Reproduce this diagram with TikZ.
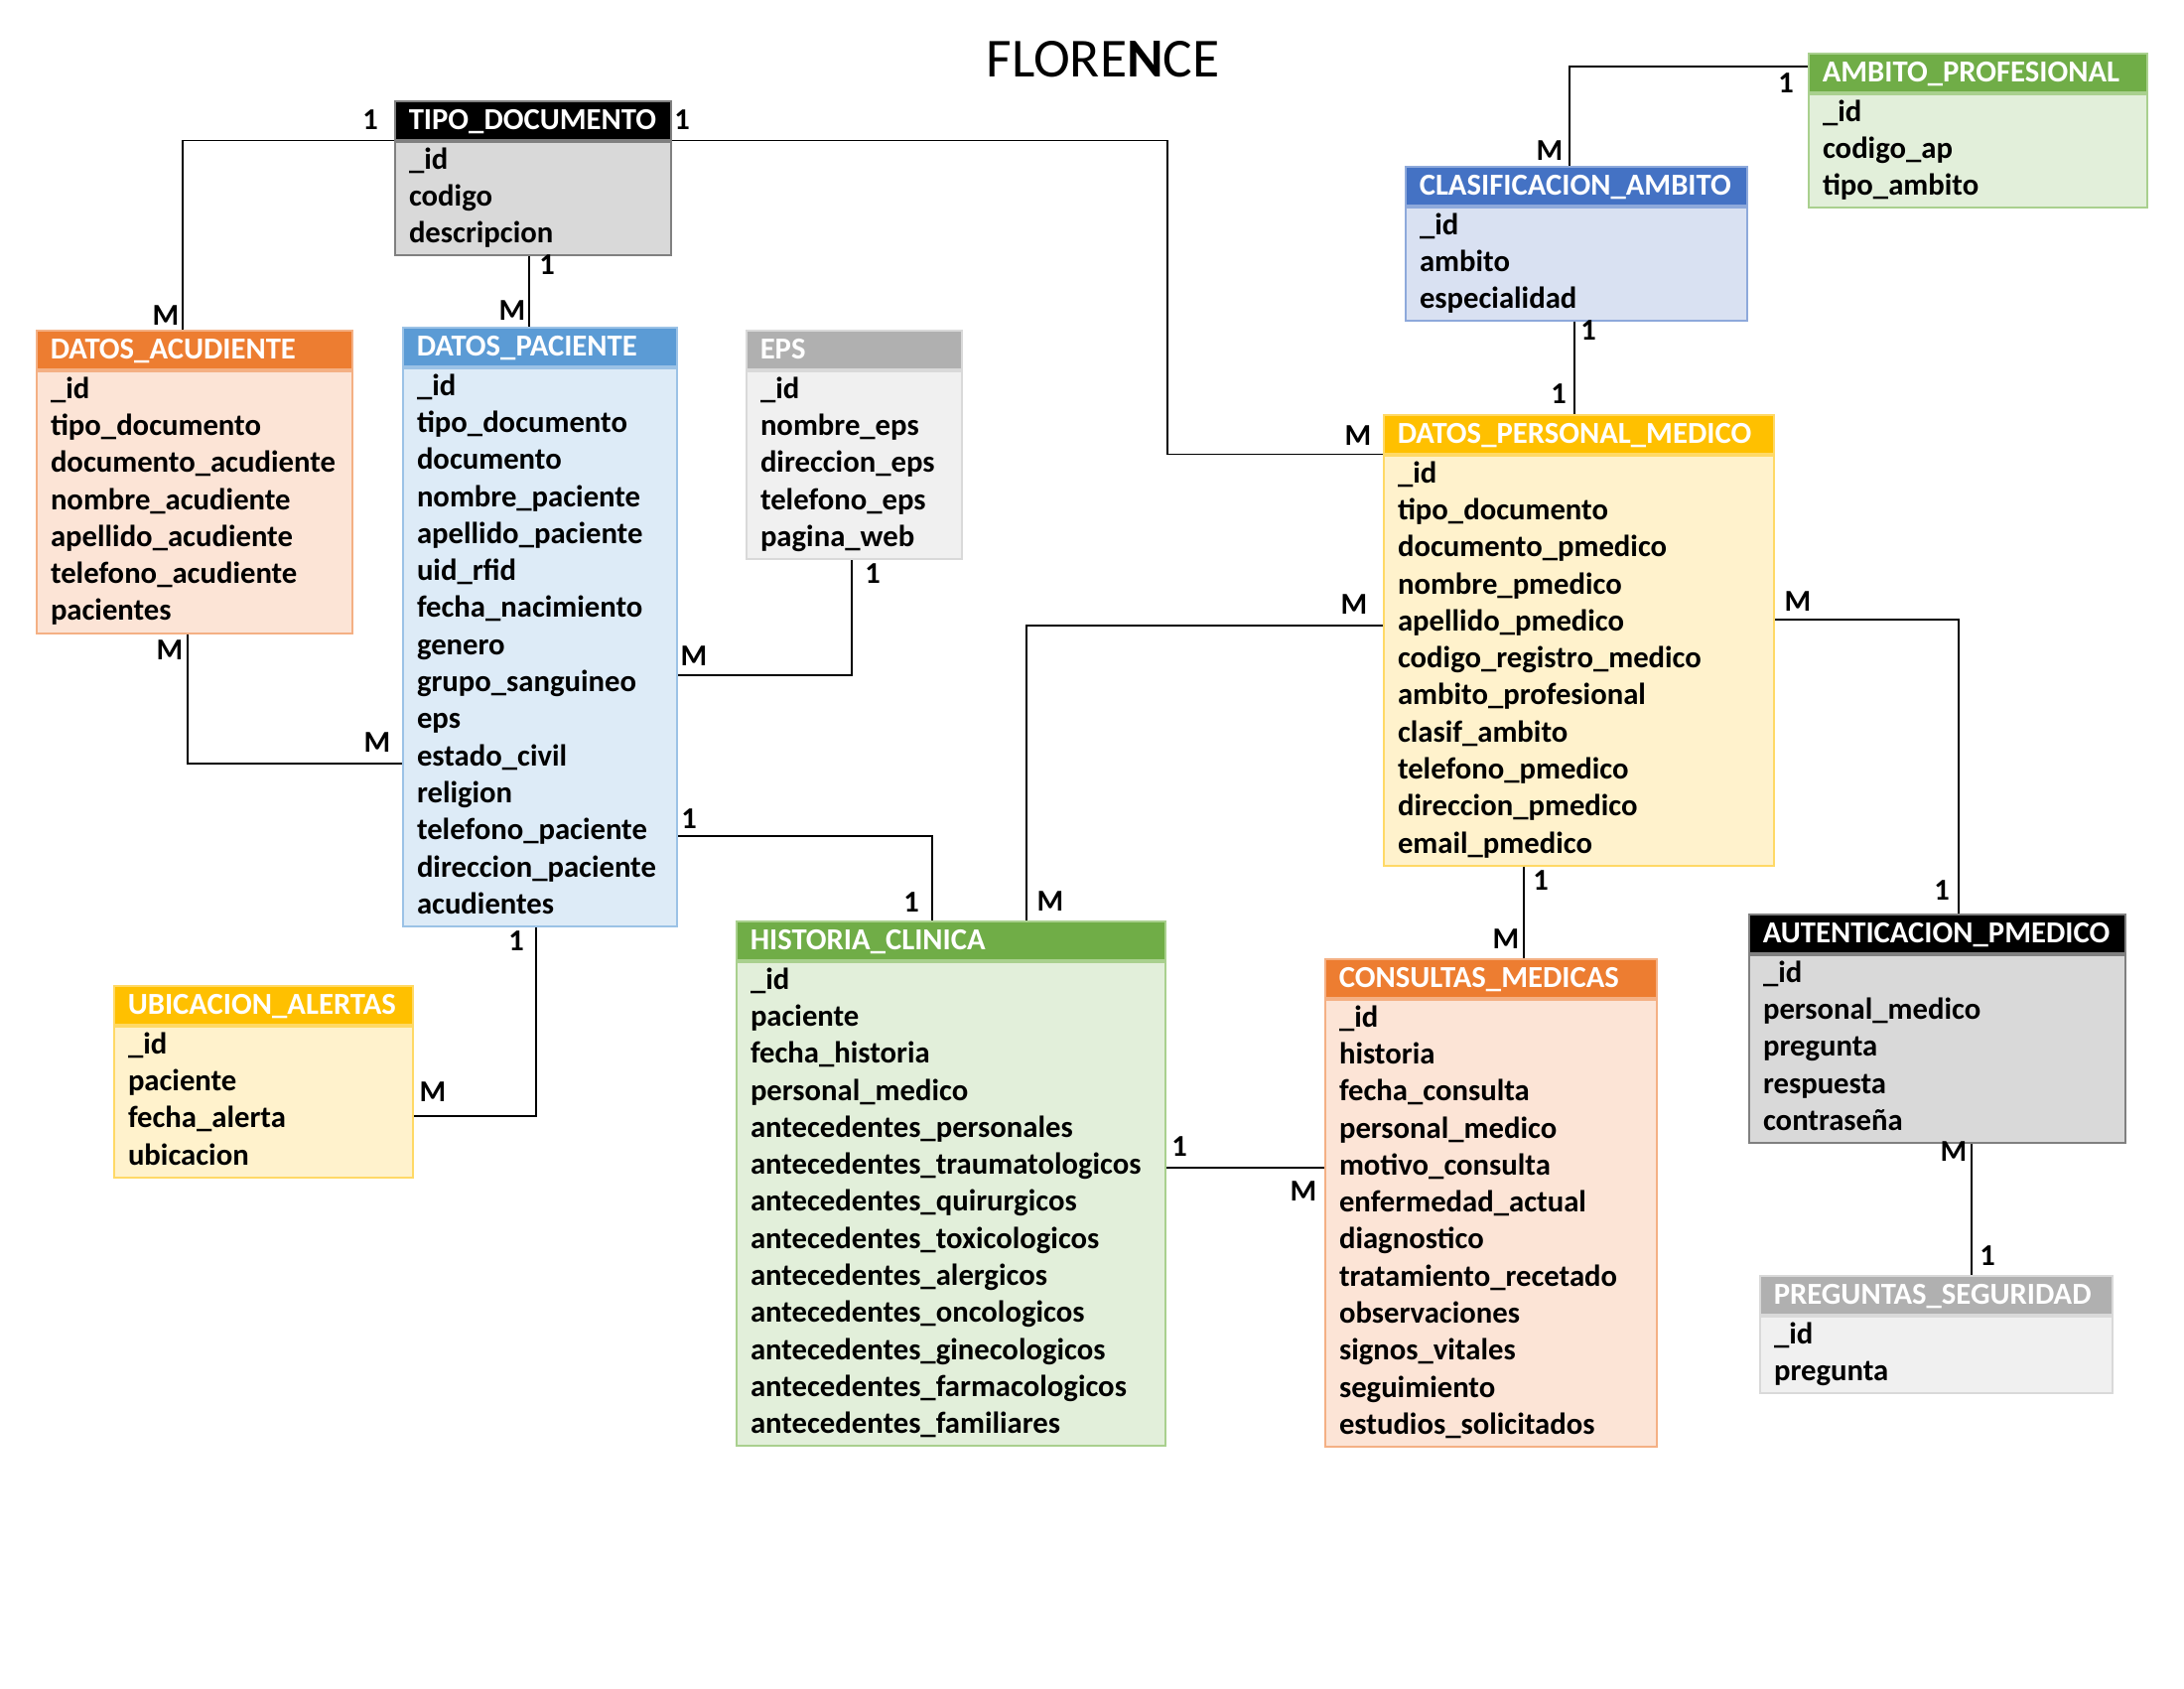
\documentclass[tikz,border=0pt]{standalone}
\usepackage{fontspec}
\setmainfont{Carlito}
\hyphenpenalty=10000
\exhyphenpenalty=10000
\definecolor{negroH}{HTML}{000000}\definecolor{negroB}{HTML}{D9D9D9}\definecolor{negroL}{HTML}{808080}
\definecolor{naranjaH}{HTML}{ED7D31}\definecolor{naranjaB}{HTML}{FCE4D6}\definecolor{naranjaL}{HTML}{F4B084}
\definecolor{celesteH}{HTML}{5B9BD5}\definecolor{celesteB}{HTML}{DDEBF7}\definecolor{celesteL}{HTML}{9BC2E6}
\definecolor{grisH}{HTML}{B0B0B0}\definecolor{grisB}{HTML}{F0F0F0}\definecolor{grisL}{HTML}{D9D9D9}
\definecolor{azulH}{HTML}{4472C4}\definecolor{azulB}{HTML}{D9E1F2}\definecolor{azulL}{HTML}{8EA9DB}
\definecolor{verdeH}{HTML}{70AD47}\definecolor{verdeB}{HTML}{E2EFDA}\definecolor{verdeL}{HTML}{A9D08E}
\definecolor{oroH}{HTML}{FFC000}\definecolor{oroB}{HTML}{FFF2CC}\definecolor{oroL}{HTML}{FFD966}
\tikzset{
  cabecera/.style={anchor=north west, minimum height=39pt, inner xsep=14pt, inner ysep=0pt,
    text height=19.4pt, text depth=0pt, align=left, text=white, line width=1.5pt,
    font=\bfseries\fontsize{30.7}{37.3}\selectfont},
  cuerpo/.style={anchor=north west, inner xsep=14pt, inner ysep=1.5pt, align=left, line width=2pt,
    font=\bfseries\fontsize{30.7}{37.3}\selectfont,
    execute at begin node=\strut, execute at end node=\strut},
  rel/.style={line width=1.8pt, black},
  card/.style={inner sep=0pt, font=\bfseries\fontsize{30.5}{31}\selectfont}
}
% tabla: nombre, x, y, ancho, color, titulo, campos
\newcommand{\ertabla}[7]{%
  \pgfmathsetmacro{\anchotxt}{#4-28}%
  \node[cabecera, fill=#5H, draw=#5L, text width=\anchotxt pt] (#1) at (#2,#3) {#6};
  \node[cuerpo, fill=#5B, draw=#5L, text width=\anchotxt pt] (#1b) at (#1.south west) {#7};
}

\begin{document}
\begin{tikzpicture}[x=1pt,y=-1pt]
  \useasboundingbox (0,0) rectangle (2200,1700);
  \node[anchor=base, font=\fontsize{55.5}{60}\selectfont] (titulo) at (1111,77) {FLORE\textbf{N}CE};

  \ertabla{tipo}{397}{101}{278}{negro}{TIPO\_DOCUMENTO}{\_id\\codigo\\descripcion}
  \ertabla{acud}{36}{332}{318}{naranja}{DATOS\_ACUDIENTE}{\_id\\tipo\_documento\\documento\_acudiente\\nombre\_acudiente\\apellido\_acudiente\\telefono\_acudiente\\pacientes}
  \ertabla{pac}{405}{329}{276}{celeste}{DATOS\_PACIENTE}{\_id\\tipo\_documento\\documento\\nombre\_paciente\\apellido\_paciente\\uid\_rfid\\fecha\_nacimiento\\genero\\grupo\_sanguineo\\eps\\estado\_civil\\religion\\telefono\_paciente\\direccion\_paciente\\acudientes}
  \ertabla{eps}{751}{332}{217}{gris}{EPS}{\_id\\nombre\_eps\\direccion\_eps\\telefono\_eps\\pagina\_web}
  \ertabla{clas}{1415}{167}{344}{azul}{CLASIFICACION\_AMBITO}{\_id\\ambito\\especialidad}
  \ertabla{amb}{1821}{53}{341}{verde}{AMBITO\_PROFESIONAL}{\_id\\codigo\_ap\\tipo\_ambito}
  \ertabla{dpm}{1393}{417}{393}{oro}{DATOS\_PERSONAL\_MEDICO}{\_id\\tipo\_documento\\documento\_pmedico\\nombre\_pmedico\\apellido\_pmedico\\codigo\_registro\_medico\\ambito\_profesional\\clasif\_ambito\\telefono\_pmedico\\direccion\_pmedico\\email\_pmedico}
  \ertabla{hist}{741}{927}{432}{verde}{HISTORIA\_CLINICA}{\_id\\paciente\\fecha\_historia\\personal\_medico\\antecedentes\_personales\\antecedentes\_traumatologicos\\antecedentes\_quirurgicos\\antecedentes\_toxicologicos\\antecedentes\_alergicos\\antecedentes\_oncologicos\\antecedentes\_ginecologicos\\antecedentes\_farmacologicos\\antecedentes\_familiares}
  \ertabla{cons}{1334}{965}{334}{naranja}{CONSULTAS\_MEDICAS}{\_id\\historia\\fecha\_consulta\\personal\_medico\\motivo\_consulta\\enfermedad\_actual\\diagnostico\\tratamiento\_recetado\\observaciones\\signos\_vitales\\seguimiento\\estudios\_solicitados}
  \ertabla{auth}{1761}{920}{379}{negro}{AUTENTICACION\_PMEDICO}{\_id\\personal\_medico\\pregunta\\respuesta\\contraseña}
  \ertabla{ubic}{114}{992}{301}{oro}{UBICACION\_ALERTAS}{\_id\\paciente\\fecha\_alerta\\ubicacion}
  \ertabla{preg}{1772}{1284}{355}{gris}{PREGUNTAS\_SEGURIDAD}{\_id\\pregunta}

  % relaciones
  \draw[rel] (tipo.south west) -| (acud.north -| 184,0);
  \draw[rel] (tipo.south east) -| (1176,0 |- dpm.south west) -- (dpm.south west);
  \draw[rel] (tipob.south -| 533,0) -- (pac.north -| 533,0);
  \draw[rel] (acudb.south -| 189,0) |- (pacb.west |- 0,769);
  \draw[rel] (epsb.south -| 858,0) |- (pacb.east |- 0,680);
  \draw[rel] (pacb.east |- 0,842) -| (hist.north -| 939,0);
  \draw[rel] (pacb.south -| 540,0) |- (ubicb.east |- 0,1124);
  \draw[rel] (amb.west |- 0,67) -| (clas.north -| 1581,0);
  \draw[rel] (clasb.south -| 1586,0) -- (dpm.north -| 1586,0);
  \draw[rel] (dpmb.west |- 0,630) -| (hist.north -| 1034,0);
  \draw[rel] (dpmb.east |- 0,624) -| (auth.north -| 1973,0);
  \draw[rel] (dpmb.south -| 1535,0) -- (cons.north -| 1535,0);
  \draw[rel] (histb.east |- 0,1176) -- (consb.west |- 0,1176);
  \draw[rel] (authb.south -| 1986,0) -- (preg.north -| 1986,0);

  % cardinalidades
  \node[card] (cTipoAcud1) at (373,121) {1};
  \node[card] (cTipoAcudM) at (167,318) {M};
  \node[card] (cTipoDpm1) at (687,121) {1};
  \node[card] (cTipoDpmM) at (1368,439) {M};
  \node[card] (cTipoPac1) at (551,267) {1};
  \node[card] (cTipoPacM) at (516,313) {M};
  \node[card] (cAcudPacA) at (171,655) {M};
  \node[card] (cAcudPacB) at (380,748) {M};
  \node[card] (cEpsPac1) at (879,578) {1};
  \node[card] (cEpsPacM) at (699,661) {M};
  \node[card] (cPacHistA) at (694,825) {1};
  \node[card] (cPacHistB) at (918,909) {1};
  \node[card] (cPacUbic1) at (520,948) {1};
  \node[card] (cPacUbicM) at (436,1100) {M};
  \node[card] (cAmbClas1) at (1799,84) {1};
  \node[card] (cAmbClasM) at (1561,152) {M};
  \node[card] (cClasDpmA) at (1600,333) {1};
  \node[card] (cClasDpmB) at (1570,397) {1};
  \node[card] (cDpmHistA) at (1364,609) {M};
  \node[card] (cDpmHistB) at (1058,908) {M};
  \node[card] (cDpmAuthM) at (1811,606) {M};
  \node[card] (cDpmAuth1) at (1956,897) {1};
  \node[card] (cDpmCons1) at (1552,887) {1};
  \node[card] (cDpmConsM) at (1517,946) {M};
  \node[card] (cHistCons1) at (1188,1155) {1};
  \node[card] (cHistConsM) at (1313,1200) {M};
  \node[card] (cAuthPregM) at (1968,1160) {M};
  \node[card] (cAuthPreg1) at (2002,1265) {1};
\end{tikzpicture}
\end{document}
